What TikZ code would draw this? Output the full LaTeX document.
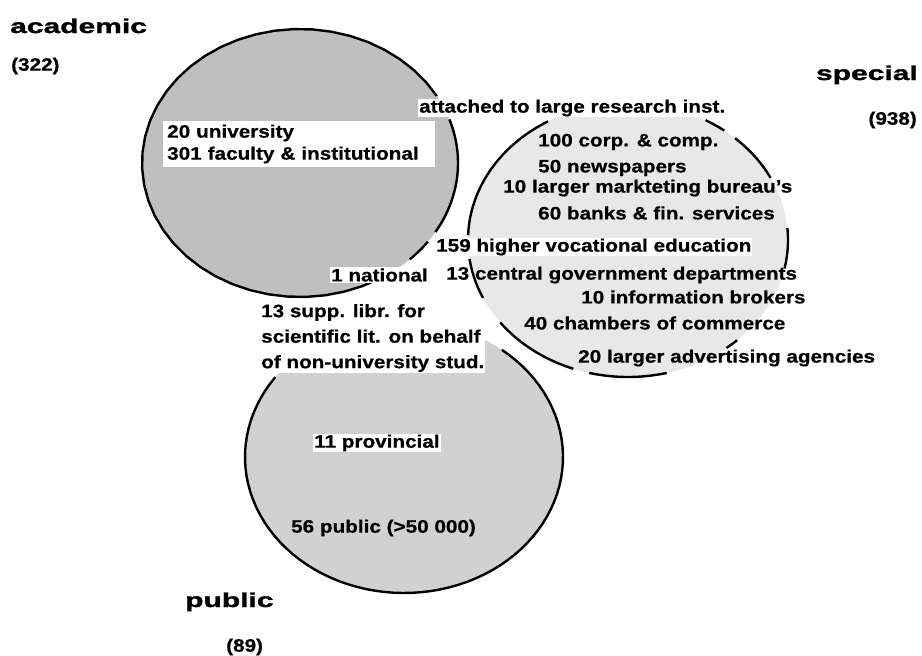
\documentclass[tikz,border=0pt]{standalone}
\usepackage{fontspec}
\setmainfont{Liberation Sans}
\newfontfamily\bodyfont[FakeStretch=1.15,FakeBold=0.6]{Liberation Sans}
\newfontfamily\titlefont[FakeStretch=1.5,FakeBold=1.5]{Liberation Sans}
\begin{document}
\begin{tikzpicture}
[x=1pt,y=-1pt,
 rim/.style={line width=2.4pt},
 lbl/.style={anchor=west,inner sep=1pt,
             font=\bodyfont\bfseries\fontsize{18}{22}\selectfont},
 wlbl/.style={lbl,fill=white},
 ttl/.style={inner sep=0pt,
             font=\titlefont\bfseries\fontsize{20}{24}\selectfont}]
\useasboundingbox (0,0) rectangle (922,656);
% the three groups
\coordinate (acad) at (300,163);
\coordinate (spec) at (628,240);
\coordinate (pub) at (404,457);
\fill[black!9] (spec) ellipse [x radius=160,y radius=137];
\fill[black!18] (pub) ellipse [x radius=159,y radius=136];
\fill[black!25] (acad) ellipse [x radius=158,y radius=134];
% broken outlines
\foreach \a/\b in {-19/31,36/46,60/330}
  \draw[rim] plot[variable=\t,domain=\a:\b,samples=40]
    ({300+158*cos(\t)},{163+134*sin(\t)});
\foreach \a/\b in {182/240,155/172,110/143,76/104,47/52,-5/12,-48/-27,-61/-53}
  \draw[rim] plot[variable=\t,domain=\a:\b,samples=25]
    ({628+160*cos(\t)},{240+137*sin(\t)});
\draw[rim] plot[variable=\t,domain=-52:216,samples=80]
  ({404+159*cos(\t)},{457+136*sin(\t)});
% titles
\node[ttl,anchor=base west] (acadtitle) at (10,33) {academic};
\node[lbl] (acadcount) at (10,66) {(322)};
\node[ttl,anchor=base east] (spectitle) at (918,80) {special};
\node[lbl,anchor=east] (speccount) at (918,120) {(938)};
\node[ttl,anchor=base west] (pubtitle) at (185,607) {public};
\node[lbl] (pubcount) at (225,647) {(89)};
% academic
\node[wlbl,align=left,text width=264pt,inner xsep=4pt,inner ysep=4pt]
  (acadlist) at (163,144) {20 university\\301 faculty \& institutional};
\node[wlbl] (national) at (330,275) {1 national};
% special
\node[wlbl] (attached) at (418,108) {attached to large research inst.};
\node[lbl] (corp) at (537,142) {100 corp. \& comp.};
\node[lbl] (news) at (537,168) {50 newspapers};
\node[lbl] (market) at (502,188) {10 larger markteting bureau’s};
\node[lbl] (banks) at (537,213) {60 banks \& fin. services};
\node[wlbl] (hvo) at (435,247) {159 higher vocational education};
\node[lbl] (govt) at (445,275) {13 central government departments};
\node[lbl] (brokers) at (580,297) {10 information brokers};
\node[lbl] (chambers) at (523,323) {40 chambers of commerce};
\node[lbl] (advert) at (577,358) {20 larger advertising agencies};
% public
\node[wlbl,align=left,
      font=\bodyfont\bfseries\fontsize{18}{25.5}\selectfont] (supp) at (260,338)
  {13 supp. libr. for\\scientific lit. on behalf\\of non-university stud.};
\node[wlbl] (prov) at (313,443) {11 provincial};
\node[lbl] (publib) at (290,528) {56 public (>50 000)};
\end{tikzpicture}
\end{document}
